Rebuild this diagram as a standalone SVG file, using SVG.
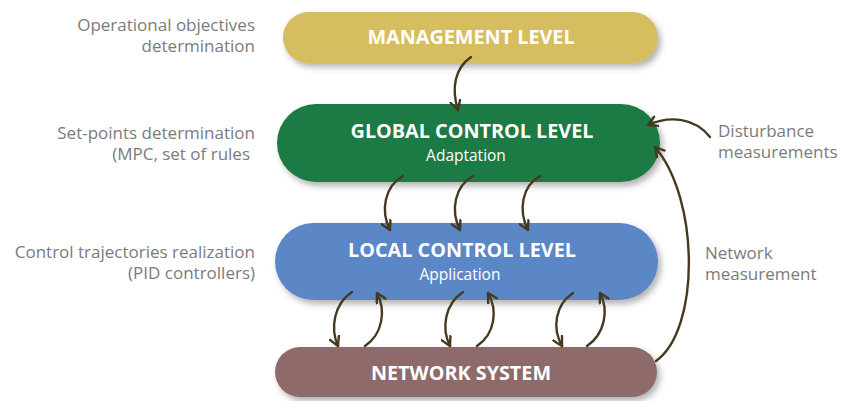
<svg xmlns="http://www.w3.org/2000/svg" width="842" height="401" viewBox="0 0 842 401">
  <defs>
    <filter id="shadow" x="-10%" y="-30%" width="125%" height="170%">
      <feDropShadow dx="3" dy="4" stdDeviation="3" flood-color="#555" flood-opacity="0.45"/>
    </filter>
    <marker id="head" viewBox="0 0 12 12" refX="10" refY="6" markerWidth="12" markerHeight="12" markerUnits="userSpaceOnUse" orient="auto">
      <path d="M1,1 L10,6 L1,11" fill="none" stroke="#47391f" stroke-width="2.4" stroke-linecap="round" stroke-linejoin="round"/>
    </marker>
  </defs>
  <style>
    .title { font-family: "Open Sans", "Noto Sans", sans-serif; font-weight: 700; font-size: 19.8px; fill: #ffffff; text-anchor: middle; }
    .sub { font-family: "Open Sans", "Noto Sans", sans-serif; font-size: 15.5px; fill: #ffffff; text-anchor: middle; }
    .note { font-family: "Open Sans", "Noto Sans", sans-serif; font-size: 17px; fill: #7b7b7b; }
    .left { text-anchor: end; }
    .link { fill: none; stroke: #47391f; stroke-width: 2.4; stroke-linecap: round; marker-end: url(#head); }
  </style>

  <rect width="842" height="401" fill="#ffffff"/>

  <!-- side annotations -->
  <g id="notes">
    <text class="note left" x="255" y="31">Operational objectives</text>
    <text class="note left" x="255" y="52">determination</text>
    <text class="note left" x="255" y="139">Set-points determination</text>
    <text class="note left" x="250" y="160">(MPC, set of rules</text>
    <text class="note left" x="255" y="258">Control trajectories realization</text>
    <text class="note left" x="255" y="279">(PID controllers)</text>
    <text class="note" x="718" y="137">Disturbance</text>
    <text class="note" x="718" y="158">measurements</text>
    <text class="note" x="705" y="259">Network</text>
    <text class="note" x="705" y="280">measurement</text>
  </g>

  <g id="management">
    <rect x="283" y="12" width="375" height="51" rx="25.5" fill="#d6bd5f" filter="url(#shadow)"/>
    <text class="title" x="471" y="44">MANAGEMENT LEVEL</text>
  </g>

  <g id="global">
    <rect x="277" y="104" width="383" height="78" rx="39" fill="#1f7a45" filter="url(#shadow)"/>
    <text class="title" x="472" y="138">GLOBAL CONTROL LEVEL</text>
    <text class="sub" x="466" y="161">Adaptation</text>
  </g>

  <g id="local">
    <rect x="275" y="223" width="383" height="77" rx="38.5" fill="#5b87c6" filter="url(#shadow)"/>
    <text class="title" x="462" y="257">LOCAL CONTROL LEVEL</text>
    <text class="sub" x="460" y="280">Application</text>
  </g>

  <g id="network">
    <rect x="275" y="347" width="382" height="50" rx="25" fill="#8e6b6a" filter="url(#shadow)"/>
    <text class="title" x="461" y="380">NETWORK SYSTEM</text>
  </g>

  <g id="connectors">
    <!-- management to global -->
    <path class="link" d="M471,57 C455,68 451,88 458,110"/>
    <!-- global to local -->
    <path class="link" d="M403,176 C385,186 380,210 390,230"/>
    <path class="link" d="M473,176 C455,186 450,210 460,230"/>
    <path class="link" d="M540,176 C522,186 518,210 528,230"/>
    <!-- local / network exchange -->
    <path class="link" d="M352,292 C334,304 330,328 338,346"/>
    <path class="link" d="M365,346 C383,334 386,310 377,293"/>
    <path class="link" d="M463,292 C445,304 441,328 450,346"/>
    <path class="link" d="M477,346 C495,334 498,310 488,293"/>
    <path class="link" d="M573,293 C555,305 552,328 562,346"/>
    <path class="link" d="M587,346 C605,334 609,310 600,293"/>
    <!-- feedback paths -->
    <path class="link" d="M656,361 C700,330 700,200 655,147"/>
    <path class="link" d="M710,137 C695,118 670,115 648,125"/>
  </g>
</svg>
